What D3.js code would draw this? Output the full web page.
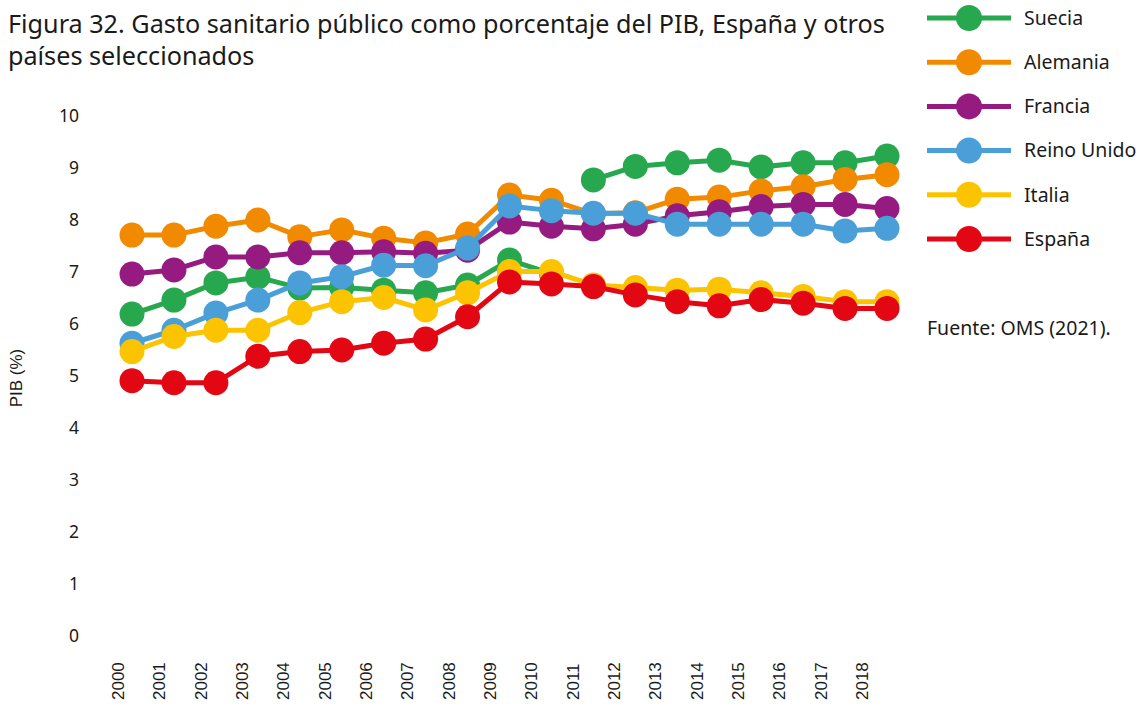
<!DOCTYPE html>
<html><head><meta charset="utf-8">
<script src="https://cdn.jsdelivr.net/npm/d3@7"></script>
<style>body{margin:0;background:#fff}svg{display:block}</style>
</head><body><svg id="c" width="1139" height="706"></svg>
<script>
const years = d3.range(2000, 2019);
const yTicks = [0,1,2,3,4,5,6,7,8,9,10];
const seriesNames = ["Suecia","Alemania","Francia","Reino Unido","Italia","España"];
const seriesColors = ["#27a84f","#f28a00","#951b81","#4a9fd8","#fcc400","#e30613"];
const suecia    = [6.19,6.46,6.79,6.90,6.69,6.70,6.65,6.60,6.75,7.23,6.97,8.77,9.03,9.10,9.15,9.02,9.10,9.10,9.23];
const alemania  = [7.71,7.71,7.88,8.00,7.68,7.81,7.65,7.56,7.73,8.48,8.38,8.12,8.14,8.40,8.44,8.56,8.64,8.78,8.87];
const francia   = [6.96,7.04,7.29,7.29,7.37,7.37,7.39,7.36,7.42,7.96,7.88,7.83,7.92,8.08,8.16,8.26,8.30,8.30,8.22];
const reinoUnido= [5.63,5.88,6.21,6.46,6.79,6.91,7.13,7.12,7.46,8.27,8.18,8.13,8.13,7.92,7.92,7.92,7.92,7.79,7.84];
const italia    = [5.47,5.76,5.88,5.88,6.22,6.43,6.51,6.27,6.60,7.01,7.01,6.75,6.70,6.65,6.67,6.60,6.53,6.43,6.43];
const espana    = [4.91,4.87,4.87,5.38,5.47,5.50,5.63,5.71,6.14,6.81,6.77,6.72,6.56,6.43,6.35,6.47,6.40,6.30,6.30];
const seriesValues = [suecia, alemania, francia, reinoUnido, italia, espana];
// year at which a series' line is broken (new segment starts)
const seriesBreaks = [[2011],[],[],[],[],[]];

const svg = d3.select("#c");
const font = "'Noto Sans', 'Open Sans', sans-serif";

const x = d3.scaleLinear().domain([2000,2018]).range([132,887]);
const xLab = d3.scaleLinear().domain([2000,2018]).range([118,862]);
const y = d3.scaleLinear().domain([0,10]).range([636,116]);

// title
const title = svg.append("text").attr("font-family", font).attr("font-size", 25.2).attr("fill","#1a1a1a");
title.append("tspan").attr("x",8).attr("y",33).text("Figura 32. Gasto sanitario público como porcentaje del PIB, España y otros");
title.append("tspan").attr("x",8).attr("y",65).text("países seleccionados");

// y axis labels
svg.append("g").selectAll("text").data(yTicks).join("text")
  .attr("x", 79).attr("y", d => y(d)).attr("dy","0.35em")
  .attr("text-anchor","end").attr("font-family", font).attr("font-size",17.5).attr("fill","#1a1a1a")
  .text(d => d);

svg.append("text").attr("transform","translate(22,378) rotate(-90)")
  .attr("text-anchor","middle").attr("font-family","'Liberation Sans', Arial, sans-serif")
  .attr("font-size",17).attr("fill","#1a1a1a").text("PIB (%)");

// x labels
svg.append("g").selectAll("text").data(years).join("text")
  .attr("transform", d => `translate(${xLab(d)},700) rotate(-90)`)
  .attr("dy","0.36em").attr("text-anchor","start")
  .attr("font-family","'Liberation Sans', Arial, sans-serif").attr("font-size",17).attr("fill","#1a1a1a")
  .text(d => d);

const line = d3.line().x(d => x(d.year)).y(d => y(d.v));

seriesNames.forEach((name, i) => {
  const pts = years.map((yr, j) => ({year: yr, v: seriesValues[i][j]}));
  const segs = [];
  let cur = [];
  pts.forEach(p => {
    if (seriesBreaks[i].includes(p.year) && cur.length) { segs.push(cur); cur = []; }
    cur.push(p);
  });
  segs.push(cur);
  const g = svg.append("g");
  segs.forEach(s => g.append("path").attr("d", line(s)).attr("fill","none")
    .attr("stroke", seriesColors[i]).attr("stroke-width",5).attr("stroke-linejoin","round"));
  g.selectAll("circle").data(pts).join("circle")
    .attr("cx", d => x(d.year)).attr("cy", d => y(d.v)).attr("r",12.5)
    .attr("fill", seriesColors[i]);
});

// legend
const lg = svg.append("g");
seriesNames.forEach((name, i) => {
  const cy = 18 + i*44.2;
  lg.append("line").attr("x1",927).attr("x2",1011).attr("y1",cy).attr("y2",cy)
    .attr("stroke",seriesColors[i]).attr("stroke-width",5);
  lg.append("circle").attr("cx",969).attr("cy",cy).attr("r",13).attr("fill",seriesColors[i]);
  lg.append("text").attr("x",1024).attr("y",cy).attr("dy","0.35em")
    .attr("font-family",font).attr("font-size",19.5).attr("fill","#1a1a1a").text(name);
});
svg.append("text").attr("x",927).attr("y",328).attr("dy","0.35em")
  .attr("font-family",font).attr("font-size",19.5).attr("fill","#1a1a1a").text("Fuente: OMS (2021).");
</script></body></html>
